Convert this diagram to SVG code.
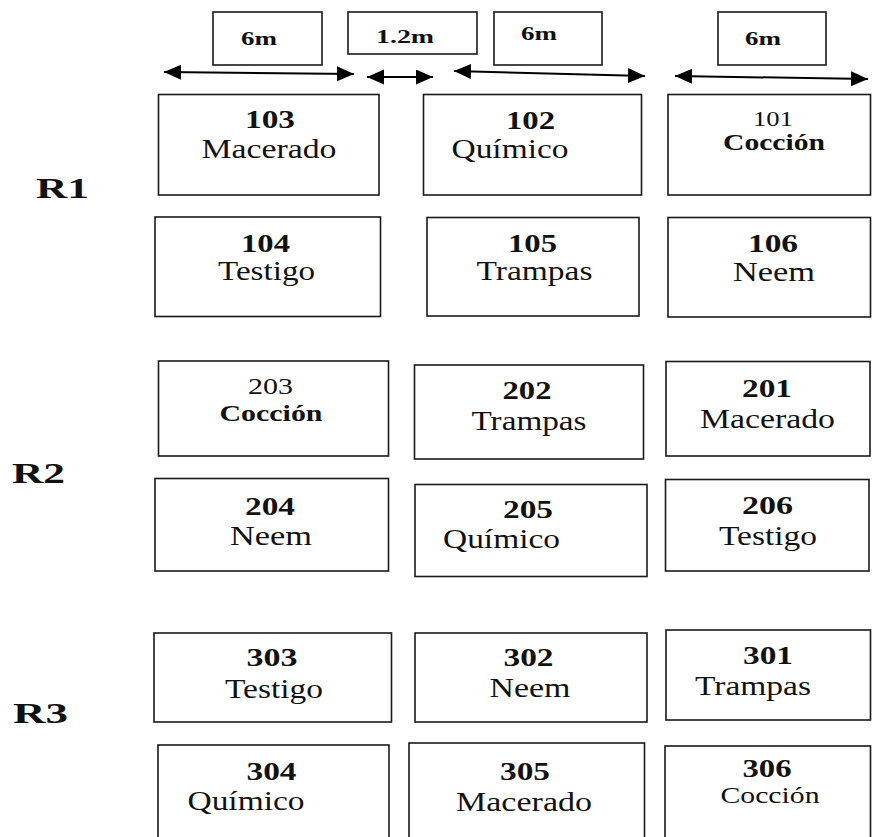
<svg xmlns="http://www.w3.org/2000/svg" width="872" height="837" viewBox="0 0 872 837" font-family="'Liberation Serif', 'DejaVu Serif', serif">
<style>
.box{fill:#fff;stroke:#1a1a1a;stroke-width:1.6}
text{font-family:'Liberation Serif','DejaVu Serif',serif;fill:#111;text-anchor:middle}
.b{font-weight:bold}
.num{font-size:26px}
.lbl{font-size:27px}
.sm{font-size:23px}
.dim{font-size:18px;font-weight:bold}
.rep{font-size:30px;font-weight:bold;text-anchor:start}
.arr{stroke:#000;stroke-width:2;fill:none;marker-start:url(#ah);marker-end:url(#ah)}
</style>
<defs>
<marker id="ah" markerUnits="userSpaceOnUse" markerWidth="18" markerHeight="16" refX="17" refY="7.5" orient="auto-start-reverse">
<path d="M0,0 L17,7.5 L0,15 z" fill="#000"/>
</marker>
</defs>
<rect width="872" height="837" fill="#fff"/>

<g id="dim-a"><rect class="box" x="213" y="12" width="109" height="53"/><text class="dim" x="259" y="45" textLength="36" lengthAdjust="spacingAndGlyphs">6m</text></g>
<g id="dim-b"><rect class="box" x="348" y="12" width="129" height="42"/><text class="dim" x="405" y="43" textLength="58" lengthAdjust="spacingAndGlyphs">1.2m</text></g>
<g id="dim-c"><rect class="box" x="494" y="12" width="108" height="53"/><text class="dim" x="539" y="40" textLength="36" lengthAdjust="spacingAndGlyphs">6m</text></g>
<g id="dim-d"><rect class="box" x="718" y="12" width="108" height="53"/><text class="dim" x="763" y="45" textLength="36" lengthAdjust="spacingAndGlyphs">6m</text></g>

<g id="connectors">
<line class="arr" x1="164" y1="72" x2="354" y2="74"/>
<line class="arr" x1="367" y1="77" x2="433" y2="77"/>
<line class="arr" x1="454" y1="71" x2="645" y2="76"/>
<line class="arr" x1="675" y1="76" x2="868" y2="79"/>
</g>

<g id="rep-r1"><text class="rep" x="36" y="198" textLength="53" lengthAdjust="spacingAndGlyphs">R1</text></g>
<g id="rep-r2"><text class="rep" x="12" y="483" textLength="53" lengthAdjust="spacingAndGlyphs">R2</text></g>
<g id="rep-r3"><text class="rep" x="13" y="723" textLength="55" lengthAdjust="spacingAndGlyphs">R3</text></g>

<g id="p103"><rect class="box" x="158.5" y="94.5" width="220.5" height="100.5"/><text class="num b" x="270" y="128" textLength="50" lengthAdjust="spacingAndGlyphs">103</text><text class="lbl" x="269" y="158" textLength="135" lengthAdjust="spacingAndGlyphs">Macerado</text></g>
<g id="p102"><rect class="box" x="423.5" y="94.5" width="218" height="100.5"/><text class="num b" x="530.5" y="129" textLength="49" lengthAdjust="spacingAndGlyphs">102</text><text class="lbl" x="510" y="158" textLength="117" lengthAdjust="spacingAndGlyphs">Químico</text></g>
<g id="p101"><rect class="box" x="668" y="94.5" width="202.5" height="100.5"/><text class="num" style="font-size:22px" x="773" y="126" textLength="40" lengthAdjust="spacingAndGlyphs">101</text><text class="sm b" x="774" y="150" textLength="102" lengthAdjust="spacingAndGlyphs">Cocción</text></g>
<g id="p104"><rect class="box" x="155" y="217" width="225.5" height="99.5"/><text class="num b" x="265.5" y="252" textLength="49" lengthAdjust="spacingAndGlyphs">104</text><text class="lbl" x="266.5" y="280" textLength="97" lengthAdjust="spacingAndGlyphs">Testigo</text></g>
<g id="p105"><rect class="box" x="427" y="217.5" width="212" height="98.5"/><text class="num b" x="532.5" y="252" textLength="49" lengthAdjust="spacingAndGlyphs">105</text><text class="lbl" x="534.5" y="280" textLength="116" lengthAdjust="spacingAndGlyphs">Trampas</text></g>
<g id="p106"><rect class="box" x="668" y="217.5" width="202.5" height="99.5"/><text class="num b" x="773" y="252" textLength="50" lengthAdjust="spacingAndGlyphs">106</text><text class="lbl" x="774" y="281" textLength="82" lengthAdjust="spacingAndGlyphs">Neem</text></g>

<g id="p203"><rect class="box" x="158.5" y="361" width="230" height="95"/><text class="num" style="font-size:24px" x="270.5" y="394" textLength="45" lengthAdjust="spacingAndGlyphs">203</text><text class="sm b" x="271" y="421" textLength="103" lengthAdjust="spacingAndGlyphs">Cocción</text></g>
<g id="p202"><rect class="box" x="414.5" y="365" width="229" height="94"/><text class="num b" x="527" y="399" textLength="49" lengthAdjust="spacingAndGlyphs">202</text><text class="lbl" x="529" y="430" textLength="115" lengthAdjust="spacingAndGlyphs">Trampas</text></g>
<g id="p201"><rect class="box" x="666" y="361.5" width="204" height="94.5"/><text class="num b" x="767" y="397" textLength="50" lengthAdjust="spacingAndGlyphs">201</text><text class="lbl" x="767.5" y="428" textLength="135" lengthAdjust="spacingAndGlyphs">Macerado</text></g>
<g id="p204"><rect class="box" x="155" y="478.5" width="233.5" height="92.5"/><text class="num b" x="270" y="515" textLength="50" lengthAdjust="spacingAndGlyphs">204</text><text class="lbl" x="271" y="545" textLength="82" lengthAdjust="spacingAndGlyphs">Neem</text></g>
<g id="p205"><rect class="box" x="415" y="484.5" width="232" height="92"/><text class="num b" x="528" y="518" textLength="50" lengthAdjust="spacingAndGlyphs">205</text><text class="lbl" x="501.5" y="548" textLength="117" lengthAdjust="spacingAndGlyphs">Químico</text></g>
<g id="p206"><rect class="box" x="665.5" y="479.5" width="203.5" height="91.5"/><text class="num b" x="767.5" y="514" textLength="51" lengthAdjust="spacingAndGlyphs">206</text><text class="lbl" x="768" y="545" textLength="98" lengthAdjust="spacingAndGlyphs">Testigo</text></g>

<g id="p303"><rect class="box" x="154" y="633" width="237.5" height="89"/><text class="num b" x="272" y="666" textLength="51" lengthAdjust="spacingAndGlyphs">303</text><text class="lbl" x="274" y="698" textLength="98" lengthAdjust="spacingAndGlyphs">Testigo</text></g>
<g id="p302"><rect class="box" x="415" y="633" width="232" height="89"/><text class="num b" x="528.5" y="666" textLength="50" lengthAdjust="spacingAndGlyphs">302</text><text class="lbl" x="530" y="697" textLength="81" lengthAdjust="spacingAndGlyphs">Neem</text></g>
<g id="p301"><rect class="box" x="666" y="630" width="204.5" height="90"/><text class="num b" x="768" y="664" textLength="50" lengthAdjust="spacingAndGlyphs">301</text><text class="lbl" x="753" y="695" textLength="116" lengthAdjust="spacingAndGlyphs">Trampas</text></g>
<g id="p304"><rect class="box" x="158" y="745" width="231" height="100"/><text class="num b" x="271.5" y="780" textLength="50" lengthAdjust="spacingAndGlyphs">304</text><text class="lbl" x="246" y="810" textLength="117" lengthAdjust="spacingAndGlyphs">Químico</text></g>
<g id="p305"><rect class="box" x="409" y="743" width="235.5" height="100"/><text class="num b" x="525" y="780" textLength="50" lengthAdjust="spacingAndGlyphs">305</text><text class="lbl" x="524" y="811" textLength="136" lengthAdjust="spacingAndGlyphs">Macerado</text></g>
<g id="p306"><rect class="box" x="665" y="746" width="205.5" height="100"/><text class="num b" x="767" y="777" textLength="49" lengthAdjust="spacingAndGlyphs">306</text><text class="sm" x="770" y="803" textLength="99" lengthAdjust="spacingAndGlyphs">Cocción</text></g>
</svg>
